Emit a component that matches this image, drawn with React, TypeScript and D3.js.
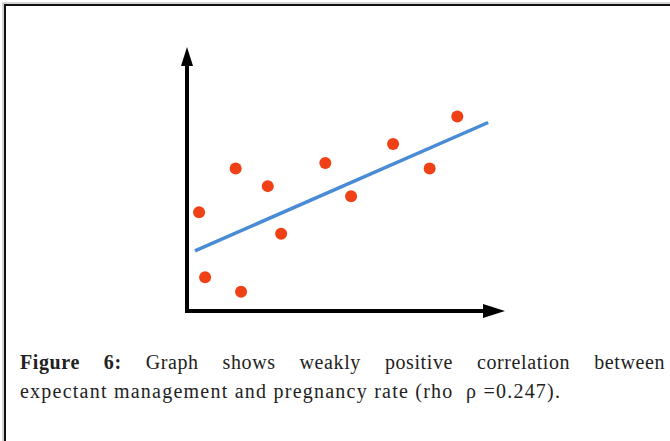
import React, { useEffect, useRef } from "react";
import * as d3 from "d3";

const xValues = [3.8, 5.7, 15.3, 17.0, 25.4, 29.6, 43.5, 51.6, 64.8, 76.3, 85.0];
const yValues = [37.4, 12.8, 54.0, 7.3, 47.3, 29.3, 56.1, 43.5, 63.3, 54.0, 73.7];
const fitX = [2.5, 94.7];
const fitY = [22.8, 71.4];
const captionBold = ["Figure", "6:"];
const captionLine1 = "Graph shows weakly positive correlation between";
const captionLine2 = "expectant management and pregnancy rate (rho  \u03c1 =0.247).";

const W = 670;
const H = 441;

export default function App() {
  const capRef = useRef<SVGGElement>(null);

  const x = d3.scaleLinear().domain([0, 100]).range([187, 505]);
  const y = d3.scaleLinear().domain([0, 100]).range([311, 47]);

  useEffect(() => {
    const g = d3.select(capRef.current);
    g.selectAll("*").remove();
    const fontSize = 20;
    const font = "'Liberation Serif', 'Times New Roman', serif";
    const left = 20;
    const right = 665;
    const words = [
      ...captionBold.map((t) => ({ t, b: true })),
      ...captionLine1.split(" ").map((t) => ({ t, b: false })),
    ];
    const nodes = words.map((w) =>
      g
        .append("text")
        .attr("y", 369)
        .attr("font-family", font)
        .attr("font-size", fontSize)
        .attr("font-weight", w.b ? "bold" : "normal")
        .attr("fill", "#222")
        .attr("letter-spacing", 0.6)
        .text(w.t)
    );
    const widths = nodes.map((n) => (n.node() as SVGTextElement).getComputedTextLength());
    const total = widths.reduce((a, b) => a + b, 0);
    const gap = (right - left - total) / (nodes.length - 1);
    let cx = left;
    nodes.forEach((n, i) => {
      n.attr("x", cx);
      cx += widths[i] + gap;
    });
    g.append("text")
      .attr("x", left)
      .attr("y", 398)
      .attr("font-family", font)
      .attr("font-size", fontSize)
      .attr("fill", "#222")
      .attr("textLength", 540)
      .attr("lengthAdjust", "spacing")
      .style("white-space", "pre")
      .text(captionLine2);
  }, []);

  const x0 = x(0);
  const y0 = y(0);
  const xTip = x(100);
  const yTip = y(100);
  const lineGen = d3
    .line<number>()
    .x((_, i) => x(fitX[i]))
    .y((d) => y(d));

  return (
    <svg width={W} height={H} style={{ position: "absolute", left: 0, top: 0, background: "#fff" }}>
      <rect x={3} y={3} width={W + 20} height={H + 20} fill="none" stroke="#aaa" strokeWidth={1} />
      <rect x={5} y={5} width={W + 20} height={H + 20} fill="none" stroke="#111" strokeWidth={2} />
      {/* axes */}
      <line x1={x0} y1={y0 + 2} x2={x0} y2={yTip + 16} stroke="#000" strokeWidth={4} />
      <path d={`M${x0},${yTip} L${x0 - 6},${yTip + 19} L${x0 + 6},${yTip + 19} Z`} fill="#000" />
      <line x1={x0 - 2} y1={y0} x2={xTip - 18} y2={y0} stroke="#000" strokeWidth={4} />
      <path d={`M${xTip},${y0} L${xTip - 22},${y0 - 7} L${xTip - 22},${y0 + 7} Z`} fill="#000" />
      {/* fit line */}
      <path d={lineGen(fitY) || ""} fill="none" stroke="#4a8bd6" strokeWidth={3.5} />
      {/* points */}
      {xValues.map((v, i) => (
        <circle key={i} cx={x(v)} cy={y(yValues[i])} r={6} fill="#ef4016" />
      ))}
      <g ref={capRef} />
    </svg>
  );
}
